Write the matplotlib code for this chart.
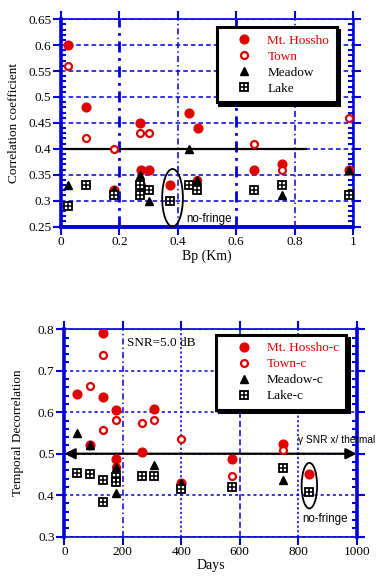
import matplotlib
matplotlib.use('Agg')
import matplotlib.pyplot as plt
from matplotlib.patches import Ellipse

plt.rcParams['font.family'] = ['Liberation Serif', 'DejaVu Serif']

BLUE = '#0000dd'
RED = '#e00000'

# top panel: correlation vs perpendicular baseline
bp_hossho = [0.023, 0.085, 0.18, 0.27, 0.275, 0.30, 0.375, 0.438, 0.469, 0.66, 0.757, 0.985]
cc_hossho = [0.60, 0.48, 0.32, 0.45, 0.36, 0.36, 0.33, 0.47, 0.44, 0.36, 0.37, 0.36]
bp_town = [0.023, 0.085, 0.18, 0.27, 0.30, 0.275, 0.465, 0.66, 0.757, 0.988]
cc_town = [0.56, 0.42, 0.40, 0.43, 0.43, 0.33, 0.34, 0.41, 0.36, 0.46]
bp_meadow = [0.023, 0.18, 0.27, 0.30, 0.438, 0.465, 0.757, 0.985]
cc_meadow = [0.33, 0.32, 0.35, 0.30, 0.40, 0.34, 0.31, 0.36]
bp_lake = [0.023, 0.085, 0.18, 0.27, 0.27, 0.30, 0.375, 0.438, 0.465, 0.66, 0.757, 0.985]
cc_lake = [0.29, 0.33, 0.31, 0.33, 0.31, 0.32, 0.30, 0.33, 0.32, 0.32, 0.33, 0.31]

# bottom panel: temporal decorrelation vs days
days_hossho = [45, 88, 133, 133, 177, 177, 266, 308, 400, 572, 749, 838]
td_hossho = [0.644, 0.52, 0.791, 0.637, 0.605, 0.487, 0.504, 0.607, 0.43, 0.487, 0.523, 0.45]
days_town = [88, 133, 133, 177, 177, 266, 308, 400, 572, 749]
td_town = [0.664, 0.738, 0.557, 0.582, 0.467, 0.573, 0.581, 0.536, 0.446, 0.509]
days_meadow = [45, 88, 177, 177, 308, 400, 749]
td_meadow = [0.549, 0.52, 0.468, 0.405, 0.473, 0.43, 0.437]
days_lake = [45, 88, 133, 133, 177, 177, 266, 308, 400, 572, 749, 838]
td_lake = [0.453, 0.45, 0.437, 0.383, 0.445, 0.431, 0.447, 0.446, 0.414, 0.419, 0.466, 0.408]

top_labels = ['Mt. Hossho', 'Town', 'Meadow', 'Lake']
bot_labels = ['Mt. Hossho-c', 'Town-c', 'Meadow-c', 'Lake-c']
label_colors = [RED, RED, 'black', 'black']


def plot_series(ax, xs, ys):
    h1, = ax.plot(xs[0], ys[0], 'o', ls='none', color=RED, ms=6.3, zorder=3)
    h2, = ax.plot(xs[1], ys[1], 'o', ls='none', mfc='white', mec=RED, mew=1.6, ms=5.0, zorder=3)
    h3, = ax.plot(xs[2], ys[2], '^', ls='none', color='black', ms=6.3, zorder=4)
    h4a, = ax.plot(xs[3], ys[3], 's', ls='none', mfc='white', mec='black', mew=1.3, ms=5.8, zorder=5)
    h4b, = ax.plot(xs[3], ys[3], '+', ls='none', color='black', mew=1.1, ms=5.8, zorder=6)
    return [h1, h2, h3, (h4a, h4b)]


def style_axes(ax, minor):
    ax.minorticks_on()
    ax.xaxis.set_tick_params(which='minor', bottom=False, top=False)
    ax.yaxis.set_minor_locator(matplotlib.ticker.MultipleLocator(minor))
    ax.tick_params(which='major', direction='out', length=5.5, width=1.5, color=BLUE,
                   top=True, right=True, labelsize=9.5, pad=1.5)
    ax.tick_params(which='minor', axis='y', direction='in', length=3.5, width=1.5,
                   color=BLUE, left=True, right=True)
    for s in ax.spines.values():
        s.set_color(BLUE)
        s.set_linewidth(1.2)
    ax.set_axisbelow(True)


def legend(ax, handles, labels, x, y):
    lg = ax.legend(handles, labels, loc='upper left', bbox_to_anchor=(x, y), borderaxespad=0,
                   fontsize=9.5, labelcolor=label_colors, handlelength=3.1, handletextpad=0.2,
                   labelspacing=0.28, borderpad=0.55, fancybox=False, framealpha=1,
                   edgecolor='black',
                   shadow={'facecolor': 'black', 'edgecolor': 'black', 'alpha': 1})
    lg.get_frame().set_linewidth(2.2)
    lg.set_zorder(10)
    return lg


fig = plt.figure(figsize=(3.87, 5.78), dpi=100)

# ---------- top ----------
ax1 = fig.add_axes([0.1576, 0.608, 0.7545, 0.3588])
style_axes(ax1, 0.01)
ax1.set_xlim(0, 1)
ax1.set_ylim(0.25, 0.65)
ax1.set_xticks([0, 0.2, 0.4, 0.6, 0.8, 1])
ax1.set_xticklabels(['0', '0.2', '0.4', '0.6', '0.8', '1'])
ax1.set_yticks([0.25, 0.3, 0.35, 0.4, 0.45, 0.5, 0.55, 0.6, 0.65])
ax1.set_yticklabels(['0.25', '0.3', '0.35', '0.4', '0.45', '0.5', '0.55', '0.6', '0.65'])
ax1.grid(True, axis='y', color=BLUE, lw=1.1, ls=(0, (3, 2)))
ax1.grid(True, axis='x', color=BLUE, lw=1.1, ls=(0, (4, 2, 1, 2)))
for i, gl in enumerate(ax1.xaxis.get_gridlines()):
    if i in (1, 3):
        gl.set_linewidth(2.0)
ax1.spines['left'].set_linewidth(2.6)
ax1.spines['bottom'].set_linewidth(2.8)
ax1.spines['right'].set_linewidth(1.8)

ax1.plot([0, 0.84], [0.4, 0.4], color='black', lw=1.6, zorder=2)
hs = plot_series(ax1, [bp_hossho, bp_town, bp_meadow, bp_lake],
                 [cc_hossho, cc_town, cc_meadow, cc_lake])
ax1.add_patch(Ellipse((0.382, 0.3055), 0.071, 0.111, fill=False, ec='black', lw=1.3, zorder=6))
ax1.text(0.428, 0.2655, 'no-fringe', family='Liberation Sans', fontsize=8.3, va='center')
legend(ax1, hs, top_labels, 0.533, 0.961)
ax1.set_xlabel('Bp (Km)', fontsize=10)
ax1.xaxis.set_label_coords(0.5, -0.112)
ax1.set_ylabel('Correlation coefficient', fontsize=9.5)
ax1.yaxis.set_label_coords(-0.14, 0.5)

# ---------- bottom ----------
ax2 = fig.add_axes([0.1662, 0.0715, 0.7556, 0.3588])
style_axes(ax2, 0.02)
ax2.set_xlim(0, 1000)
ax2.set_ylim(0.3, 0.8)
ax2.set_xticks([0, 200, 400, 600, 800, 1000])
ax2.set_yticks([0.3, 0.4, 0.5, 0.6, 0.7, 0.8])
ax2.grid(True, axis='y', color=BLUE, lw=1.1, ls=(0, (2, 2)))
ax2.grid(True, axis='x', color=BLUE, lw=1.1, ls=(0, (2, 2)))
vstyles = {1: (0, (4, 2, 1, 2)), 2: (0, (1.5, 1.5)), 3: (0, (4, 2)), 4: (0, (1.5, 1.5))}
for i, gl in enumerate(ax2.xaxis.get_gridlines()):
    if i in vstyles:
        gl.set_linestyle(vstyles[i])
ax2.spines['left'].set_linewidth(2.6)
ax2.spines['right'].set_linewidth(2.6)

ax2.annotate('', xy=(1000, 0.5), xytext=(0, 0.5),
             arrowprops=dict(arrowstyle='<|-|>', color='black', lw=1.6,
                             mutation_scale=16, shrinkA=0, shrinkB=0), zorder=2)
hs2 = plot_series(ax2, [days_hossho, days_town, days_meadow, days_lake],
                  [td_hossho, td_town, td_meadow, td_lake])
ax2.add_patch(Ellipse((838, 0.423), 53, 0.110, fill=False, ec='black', lw=1.3, zorder=6))
ax2.text(814, 0.342, 'no-fringe', family='Liberation Sans', fontsize=8.3, va='center')
ax2.text(213, 0.768, 'SNR=5.0 dB', fontsize=9.5, va='center')
ax2.text(800, 0.533, '\u03b3 SNR x/ thermal', family='Liberation Sans', fontsize=7.3,
         va='center', clip_on=False)
legend(ax2, hs2, bot_labels, 0.519, 0.9725)
ax2.set_xlabel('Days', fontsize=10)
ax2.xaxis.set_label_coords(0.5, -0.11)
ax2.set_ylabel('Temporal Decorrelation', fontsize=9.5)
ax2.yaxis.set_label_coords(-0.138, 0.5)

fig.savefig('out.png', dpi=100)
